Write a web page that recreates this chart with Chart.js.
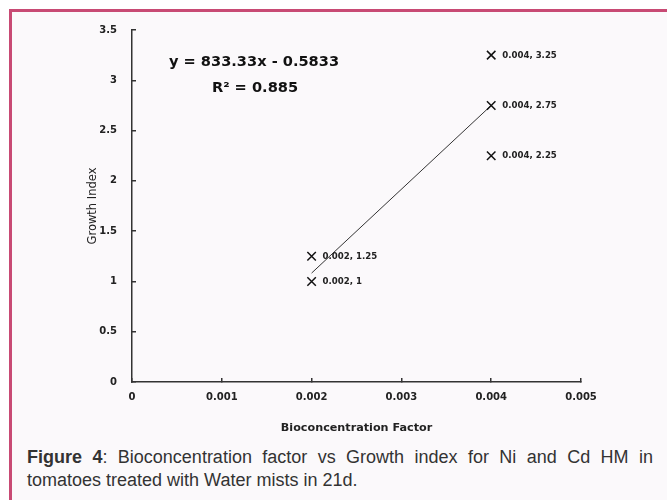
<!DOCTYPE html>
<html>
<head>
<meta charset="utf-8">
<script src="https://cdn.jsdelivr.net/npm/chart.js@4/dist/chart.umd.min.js"></script>
<style>
  body { margin: 0; background: #fff; width: 667px; height: 500px; overflow: hidden; position: relative; }
  #frame { position: absolute; left: 9px; top: 9px; width: 700px; height: 500px;
           border-top: 3px solid #c84a74; border-left: 3px solid #c84a74; background: #fbf9fb; }
  #wrap { position: absolute; left: 0; top: 0; width: 667px; height: 445px; }
  #caption { position: absolute; left: 27px; top: 446px; width: 626px; font: 18px "Liberation Sans", Arial, sans-serif;
             line-height: 23px; color: #333; text-align: justify; }
</style>
</head>
<body>
<div id="frame"></div>
<div id="wrap"><canvas id="myChart" width="667" height="445"></canvas></div>
<div id="caption"><b>Figure 4</b>: Bioconcentration factor vs Growth index for Ni and Cd HM in tomatoes treated with Water mists in 21d.</div>
<script>
// data
const bcf = [0.002, 0.002, 0.004, 0.004, 0.004];
const growthIndex = [1, 1.25, 2.25, 2.75, 3.25];
const trendX = [0.002, 0.004];
const trendY = [1.083, 2.75];
const xTickLabels = ["0", "0.001", "0.002", "0.003", "0.004", "0.005"];
const yTickLabels = ["0", "0.5", "1", "1.5", "2", "2.5", "3", "3.5"];
const equation = "y = 833.33x - 0.5833";
const rSquared = "R\u00b2 = 0.885";

const points = bcf.map((x, i) => ({ x: x, y: growthIndex[i] }));
const trend = trendX.map((x, i) => ({ x: x, y: trendY[i] }));

// "x, y" labels to the right of each marker
const pointLabels = {
  id: "pointLabels",
  afterDatasetsDraw(chart) {
    const c = chart.ctx;
    const meta = chart.getDatasetMeta(0);
    c.save();
    c.font = "bold 8.6px 'DejaVu Sans'";
    c.fillStyle = "#222";
    c.textAlign = "left";
    c.textBaseline = "middle";
    meta.data.forEach((el, i) => {
      c.fillText(bcf[i] + ", " + growthIndex[i], el.x + 11, el.y + 0.5);
    });
    c.restore();
  },
};

// trendline equation box
const trendText = {
  id: "trendText",
  afterDraw(chart) {
    const c = chart.ctx;
    const a = chart.chartArea;
    c.save();
    c.font = "bold 14.6px 'DejaVu Sans'";
    c.fillStyle = "#111";
    c.textAlign = "center";
    c.textBaseline = "middle";
    c.fillText(equation, a.left + 122, 62);
    c.fillText(rSquared, a.left + 123, 88);
    c.restore();
  },
};

const ctx = document.getElementById("myChart");
new Chart(ctx, {
  type: "scatter",
  data: {
    datasets: [
      {
        label: "Growth Index",
        data: points,
        pointStyle: "crossRot",
        pointRadius: 6,
        pointBorderWidth: 1.5,
        borderColor: "#111",
        backgroundColor: "#111",
      },
      {
        type: "line",
        label: "Linear",
        data: trend,
        showLine: true,
        fill: false,
        pointRadius: 0,
        borderWidth: 1,
        borderColor: "#333",
      },
    ],
  },
  options: {
    responsive: false,
    animation: false,
    layout: { padding: { top: 30, right: 86, bottom: 0, left: 0 } },
    plugins: { legend: { display: false }, tooltip: { enabled: false } },
    scales: {
      x: {
        type: "linear",
        min: 0,
        max: 0.005,
        afterFit: (s) => { s.height = 63; },
        afterBuildTicks: (s) => { s.ticks = xTickLabels.map((t) => ({ value: Number(t) })); },
        ticks: {
          padding: 13,
          color: "#222",
          font: { family: "DejaVu Sans", size: 10, weight: "bold" },
          callback: (v, i) => xTickLabels[i],
        },
        grid: { drawOnChartArea: false, tickLength: -4, color: "#333", lineWidth: 1.5 },
        border: { color: "#333", width: 1.5 },
        title: {
          display: true,
          text: "Bioconcentration Factor",
          color: "#222",
          font: { family: "DejaVu Sans", size: 11.2, weight: "bold" },
          padding: { top: 0, bottom: 10 },
        },
      },
      y: {
        min: 0,
        max: 3.5,
        afterFit: (s) => { s.width = 132; },
        afterBuildTicks: (s) => { s.ticks = yTickLabels.map((t) => ({ value: Number(t) })); },
        ticks: {
          padding: 19,
          color: "#222",
          font: { family: "DejaVu Sans", size: 10, weight: "bold" },
          callback: (v, i) => yTickLabels[i],
        },
        grid: { drawOnChartArea: false, tickLength: -4, color: "#333", lineWidth: 1.5 },
        border: { color: "#333", width: 1.5 },
        title: {
          display: true,
          text: "Growth Index",
          color: "#222",
          font: { family: "DejaVu Sans", size: 11.5 },
          padding: { top: 86, bottom: 0 },
        },
      },
    },
  },
  plugins: [pointLabels, trendText],
});
</script>
</body>
</html>
